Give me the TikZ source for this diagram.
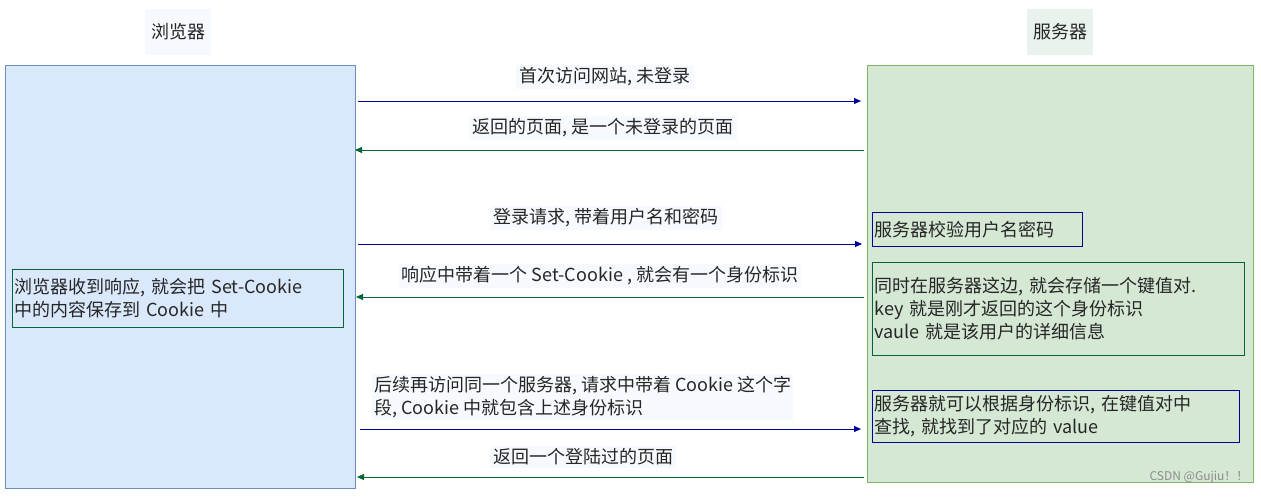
\documentclass[tikz,border=0pt]{standalone}
\usepackage{fontspec}
\setmainfont{Liberation Sans}
\newfontfamily\cjk{Noto Sans CJK SC}
\usetikzlibrary{arrows.meta}
\definecolor{lb}{HTML}{DAE8FC}\definecolor{lbd}{HTML}{6C8EBF}
\definecolor{lg}{HTML}{D5E8D4}\definecolor{lgd}{HTML}{82B366}
\definecolor{bl}{HTML}{000099}\definecolor{gr}{HTML}{006633}
\definecolor{lab}{HTML}{F6F9FD}
\begin{document}
\begin{tikzpicture}[x=1pt,y=-1pt,
  txt/.style={font=\cjk\fontsize{18}{23}\selectfont,text=black!85},
  lbl/.style={txt,fill=lab,inner sep=3pt},
  req/.style={draw=bl,-{Triangle[length=7pt,width=6pt]},line width=0.8pt},
  rsp/.style={draw=gr,-{Triangle[length=7pt,width=6pt]},line width=0.8pt},
  gbox/.style={txt,draw=gr,line width=0.8pt,align=left,inner sep=2pt,anchor=north west},
  bbox/.style={txt,draw=bl,line width=0.8pt,align=left,inner sep=2pt,anchor=north west}]
\useasboundingbox (0,0) rectangle (1261,496);
\node[draw=lbd,fill=lb,minimum width=350pt,minimum height=423pt,anchor=north west,inner sep=0] (B) at (5,65) {};
\node[draw=lgd,fill=lg,minimum width=386pt,minimum height=417pt,anchor=north west,inner sep=0] (S) at (867,65) {};
\node[lbl,fill=lab,minimum width=66pt,minimum height=46pt] (tb) at (178,32) {浏览器};
\node[lbl,fill=lab!60!lg,minimum width=66pt,minimum height=46pt] (ts) at (1060,32) {服务器};
\coordinate (l1) at (358,101);\coordinate (r1) at (861,101);
\coordinate (l2) at (355,150);\coordinate (r2) at (864,150);
\coordinate (l3) at (358,244);\coordinate (r3) at (862,244);
\coordinate (l4) at (356,297);\coordinate (r4) at (864,297);
\coordinate (l5) at (360,429);\coordinate (r5) at (861,429);
\coordinate (l6) at (357,477);\coordinate (r6) at (864,477);
\draw[req] (l1) -- (r1);\draw[rsp] (r2) -- (l2);
\draw[req] (l3) -- (r3);\draw[rsp] (r4) -- (l4);
\draw[req] (l5) -- (r5);\draw[rsp] (r6) -- (l6);
\node[lbl] (a1) at (605,77) {首次访问网站, 未登录};
\node[lbl] (a2) at (603,128) {返回的页面, 是一个未登录的页面};
\node[lbl] (a3) at (606,218) {登录请求, 带着用户名和密码};
\node[lbl] (a4) at (600,276) {响应中带着一个 Set-Cookie , 就会有一个身份标识};
\node[lbl,align=left,anchor=north west,inner sep=2pt] (a5) at (372,374) {后续再访问同一个服务器, 请求中带着 Cookie 这个字\\段, Cookie 中就包含上述身份标识};
\node[lbl] (a6) at (583,457) {返回一个登陆过的页面};
\node[gbox,text width=327pt,minimum height=58pt] (c1) at (12,269) {浏览器收到响应, 就会把 Set-Cookie\\中的内容保存到 Cookie 中};
\node[bbox,text width=206pt,minimum height=34pt] (c2) at (872,212) {服务器校验用户名密码};
\node[gbox,text width=368pt,minimum height=93pt] (c3) at (872,262) {同时在服务器这边, 就会存储一个键值对.\\key 就是刚才返回的这个身份标识\\vaule 就是该用户的详细信息};
\node[bbox,text width=363pt,minimum height=52pt] (c4) at (872,390) {服务器就可以根据身份标识, 在键值对中\\查找, 就找到了对应的 value};
\node[font=\cjk\fontsize{12}{14}\selectfont,text=black!45,anchor=east] (wm) at (1252,477) {CSDN @Gujiu！！};
\end{tikzpicture}
\end{document}
